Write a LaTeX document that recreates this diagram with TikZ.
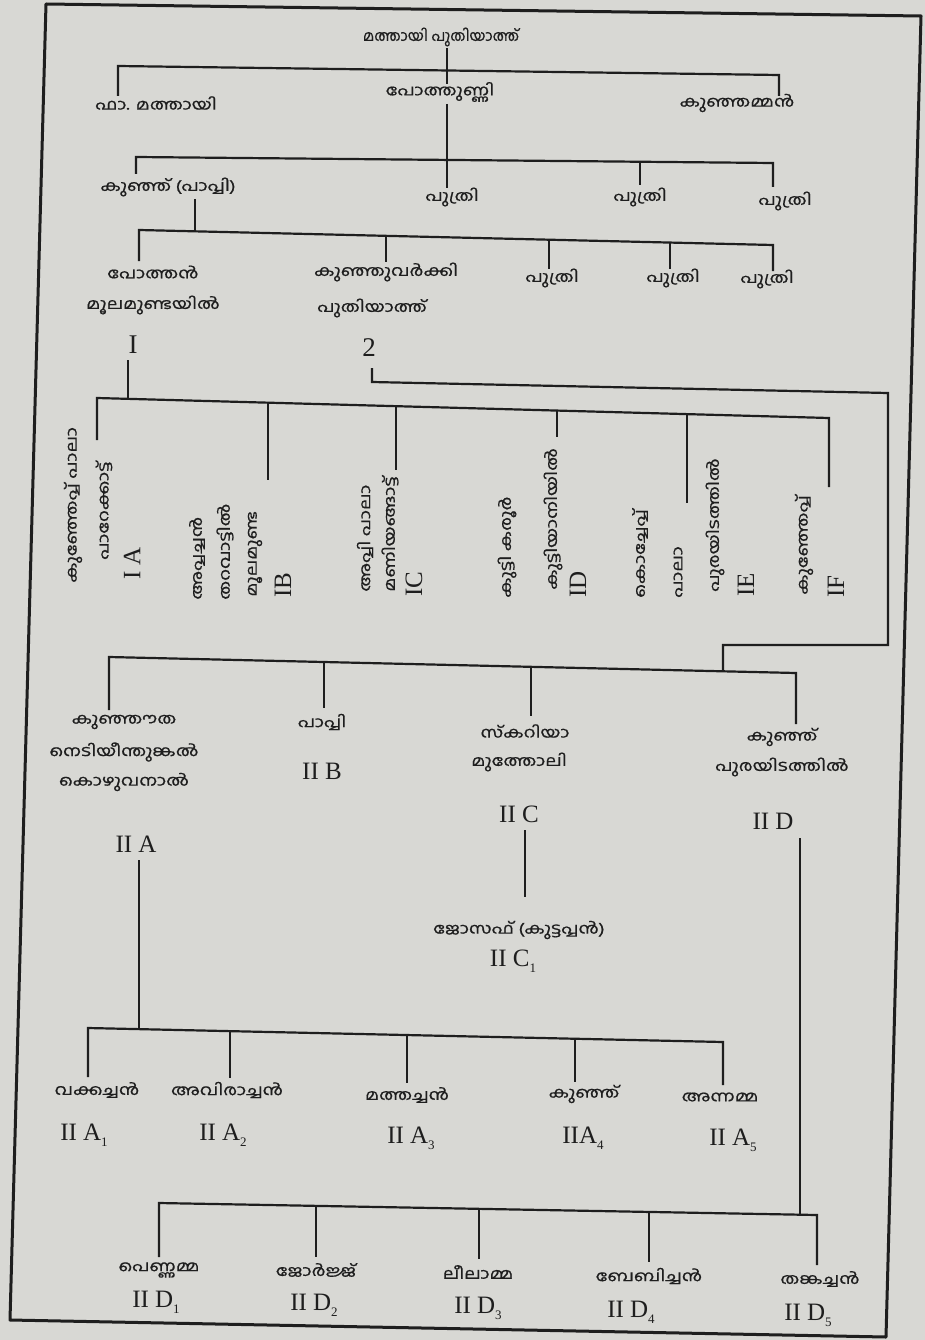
\documentclass[tikz,border=0pt]{standalone}
\usepackage{fontspec}
\setmainfont{Liberation Serif}
\newfontfamily\mal[Script=Malayalam, FakeStretch=1.25, FakeBold=0.8]{Hind Kochi}
\usetikzlibrary{calc}
\definecolor{ink}{HTML}{1E1E1E}
\definecolor{paper}{HTML}{D8D8D4}
\newcommand{\mysub}[1]{\raisebox{-6pt}{\fontsize{13}{13}\selectfont #1}}
\begin{document}
\begin{tikzpicture}[x=1pt,y=-1pt,
  ml/.style={font=\mal\fontsize{15}{17}\selectfont, inner sep=0pt, text=ink},
  rn/.style={font=\rmfamily\fontsize{25}{25}\selectfont, inner sep=0pt, text=ink, anchor=base},
  rml/.style={ml, rotate=90, anchor=west},
  rrn/.style={font=\rmfamily\fontsize{25}{25}\selectfont, inner sep=0pt, text=ink, rotate=90, anchor=west},
  tree/.style={draw=ink, line width=2.2pt},
  frame/.style={draw=ink, line width=3pt, line join=round}]
\fill[paper] (0,0) rectangle (925,1340);
\useasboundingbox (0,0) rectangle (925,1340);
\draw[frame] (46,4) -- (921,16) -- (886,1337) -- (10,1320) -- cycle;

% generation 0 and 1
\node[ml] (t0) at (441,37) {\scalebox{0.8}[1]{മത്തായി പുതിയാത്ത്}};
\node[ml] (fr) at (156,103) {ഫാ. മത്തായി};
\node[ml] (pot) at (440,92) {പോത്തുണ്ണി};
\node[ml] (kun) at (737,103) {കുഞ്ഞമ്മൻ};
\coordinate (v0a) at (447,48); \coordinate (v0b) at (447,84);
\coordinate (a0) at (118,66); \coordinate (b0) at (779,75);
\coordinate (a0e) at (118,96); \coordinate (b0e) at (779,96);
\draw[tree] (v0a) -- (v0b);
\draw[tree] (a0e) -- (a0) -- (b0) -- (b0e);

% generation 2
\node[ml] (papi) at (168,187) {കുഞ്ഞ് (പാപ്പി)};
\node[ml] (pu1) at (452,197) {പുത്രി};
\node[ml] (pu2) at (640,197) {പുത്രി};
\node[ml] (pu3) at (785,201) {പുത്രി};
\coordinate (v1a) at (447,104); \coordinate (v1b) at (447,188);
\coordinate (a1) at (136,157); \coordinate (b1) at (773,163);
\coordinate (a1e) at (136,174); \coordinate (m1) at (640,161); \coordinate (m1e) at (640,185);
\coordinate (b1e) at (773,187);
\draw[tree] (v1a) -- (v1b);
\draw[tree] (a1e) -- (a1) -- (b1) -- (b1e);
\draw[tree] (m1) -- (m1e);

% generation 3
\node[ml] (pothan) at (153,272) {പോത്തൻ};
\node[ml] (kv) at (386,272) {കുഞ്ഞുവർക്കി};
\node[ml] (pu4) at (552,278) {പുത്രി};
\node[ml] (pu5) at (673,278) {പുത്രി};
\node[ml] (pu6) at (767,279) {പുത്രി};
\node[ml] (mm) at (153,305) {മൂലമുണ്ടയിൽ};
\node[ml] (pt) at (372,308) {പുതിയാത്ത്};
\node[rn,font=\rmfamily\fontsize{27}{27}\selectfont] (one) at (133,353) {I};
\node[rn,font=\rmfamily\fontsize{27}{27}\selectfont] (two) at (369,356) {2};
\coordinate (v2a) at (195,199); \coordinate (v2b) at (195,231);
\coordinate (a2) at (139,230); \coordinate (b2) at (773,245);
\coordinate (a2e) at (139,261);
\coordinate (k2) at (386,236); \coordinate (k2e) at (386,262);
\coordinate (p4) at (549,240); \coordinate (p4e) at (549,269);
\coordinate (p5) at (670,243); \coordinate (p5e) at (670,269);
\coordinate (b2e) at (773,271);
\draw[tree] (v2a) -- (v2b);
\draw[tree] (a2e) -- (a2) -- (b2) -- (b2e);
\draw[tree] (k2) -- (k2e);
\draw[tree] (p4) -- (p4e);
\draw[tree] (p5) -- (p5e);

% line I
\coordinate (v3a) at (128,360); \coordinate (v3b) at (128,399);
\coordinate (a3) at (97,398); \coordinate (b3) at (829,418);
\coordinate (a3e) at (97,440);
\coordinate (ib) at (268,403); \coordinate (ibe) at (268,480);
\coordinate (ic) at (396,406); \coordinate (ice) at (396,470);
\coordinate (id) at (557,410); \coordinate (ide) at (557,437);
\coordinate (ie) at (687,414); \coordinate (iee) at (687,503);
\coordinate (b3e) at (829,487);
\draw[tree] (v3a) -- (v3b);
\draw[tree] (a3e) -- (a3) -- (b3) -- (b3e);
\draw[tree] (ib) -- (ibe);
\draw[tree] (ic) -- (ice);
\draw[tree] (id) -- (ide);
\draw[tree] (ie) -- (iee);

% I A ... I F (rotated)
\node[rml] (ia1) at (73,583) {കുഞ്ഞേപ്പ് പാലാ};
\node[rml] (ia2) at (104,560) {പാറേക്കാട്ട്};
\node[rrn] (ia) at (132,580) {I A};
\node[rml] (ib1) at (197,600) {അപ്പച്ചൻ};
\node[rml] (ib2) at (225,600) {തറവാട്ടിൽ};
\node[rml] (ib3) at (255,597) {മൂലമുണ്ട};
\node[rrn] (ibn) at (283,598) {IB};
\node[rml] (ic1) at (365,592) {അപ്പി പാലാ};
\node[rml] (ic2) at (390,592) {മണിയങ്ങാട്ട്};
\node[rrn] (icn) at (414,597) {IC};
\node[rml] (id1) at (507,598) {കുട്ടി കരൂർ};
\node[rml] (id2) at (553,590) {കുട്ടിയാനിയിൽ};
\node[rrn] (idn) at (578,598) {ID};
\node[rml] (ie1) at (640,598) {കൊച്ചേപ്പ്};
\node[rml] (ie2) at (678,598) {പാലാ};
\node[rml] (ie3) at (715,592) {പുരയിടത്തിൽ};
\node[rrn] (ien) at (746,597) {IE};
\node[rml] (if1) at (804,595) {കുഞ്ഞേപ്പ്};
\node[rrn] (ifn) at (836,598) {IF};

% line 2 to generation II
\coordinate (w0) at (372,368); \coordinate (w1) at (372,382);
\coordinate (w2) at (888,393); \coordinate (w3) at (888,645);
\coordinate (w4) at (723,645); \coordinate (w5) at (723,671);
\draw[tree] (w0) -- (w1) -- (w2) -- (w3) -- (w4) -- (w5);
\coordinate (a4) at (109,657); \coordinate (b4) at (796,673);
\coordinate (a4e) at (109,710);
\coordinate (q2) at (324,662); \coordinate (q2e) at (324,708);
\coordinate (q3) at (531,667); \coordinate (q3e) at (531,716);
\coordinate (b4e) at (796,724);
\draw[tree] (a4e) -- (a4) -- (b4) -- (b4e);
\draw[tree] (q2) -- (q2e);
\draw[tree] (q3) -- (q3e);

\node[ml] (ku) at (124,722) {കുഞ്ഞൗത};
\node[ml] (ne) at (124,752) {നെടിയീന്തുങ്കൽ};
\node[ml] (ko) at (124,782) {കൊഴുവനാൽ};
\node[rn] (iia) at (136,852) {II A};
\node[ml] (pa) at (322,722) {പാപ്പി};
\node[rn] (iib) at (322,779) {II B};
\node[ml] (sk) at (525,731) {സ്കറിയാ};
\node[ml] (mu) at (519,762) {മുത്തോലി};
\node[rn] (iic) at (519,822) {II C};
\node[ml] (kj) at (782,737) {കുഞ്ഞ്};
\node[ml] (pu) at (782,767) {പുരയിടത്തിൽ};
\node[rn] (iid) at (773,829) {II D};

% II C 1
\coordinate (c1a) at (525,830); \coordinate (c1b) at (525,897);
\draw[tree] (c1a) -- (c1b);
\node[ml] (jo) at (519,930) {ജോസഫ് (കുട്ടപ്പൻ)};
\node[rn] (iic1) at (513,966) {II C\mysub{1}};

% II A children
\coordinate (x0) at (139,860); \coordinate (x1) at (139,1029);
\draw[tree] (x0) -- (x1);
\coordinate (a5) at (88,1028); \coordinate (b5) at (723,1042);
\coordinate (a5e) at (88,1077);
\coordinate (r2) at (230,1031); \coordinate (r2e) at (230,1078);
\coordinate (r3) at (407,1035); \coordinate (r3e) at (407,1083);
\coordinate (r4) at (575,1039); \coordinate (r4e) at (575,1082);
\coordinate (b5e) at (723,1085);
\draw[tree] (a5e) -- (a5) -- (b5) -- (b5e);
\draw[tree] (r2) -- (r2e);
\draw[tree] (r3) -- (r3e);
\draw[tree] (r4) -- (r4e);
\node[ml] (va) at (97,1090) {വക്കച്ചൻ};
\node[ml] (av) at (227,1090) {അവിരാച്ചൻ};
\node[ml] (mt) at (407,1095) {മത്തച്ചൻ};
\node[ml] (k4) at (584,1094) {കുഞ്ഞ്};
\node[ml] (an) at (720,1097) {അന്നമ്മ};
\node[rn] (iia1) at (84,1140) {II A\mysub{1}};
\node[rn] (iia2) at (223,1140) {II A\mysub{2}};
\node[rn] (iia3) at (411,1143) {II A\mysub{3}};
\node[rn] (iia4) at (583,1143) {IIA\mysub{4}};
\node[rn] (iia5) at (733,1145) {II A\mysub{5}};

% II D children
\coordinate (y0) at (800,838); \coordinate (y1) at (800,1215);
\draw[tree] (y0) -- (y1);
\coordinate (a6) at (159,1203); \coordinate (b6) at (817,1215);
\coordinate (a6e) at (159,1257);
\coordinate (s2) at (316,1206); \coordinate (s2e) at (316,1257);
\coordinate (s3) at (479,1209); \coordinate (s3e) at (479,1259);
\coordinate (s4) at (649,1212); \coordinate (s4e) at (649,1262);
\coordinate (b6e) at (817,1265);
\draw[tree] (a6e) -- (a6) -- (b6) -- (b6e);
\draw[tree] (s2) -- (s2e);
\draw[tree] (s3) -- (s3e);
\draw[tree] (s4) -- (s4e);
\node[ml] (pe) at (159,1270) {പെണ്ണമ്മ};
\node[ml] (ge) at (316,1270) {ജോർജ്ജ്};
\node[ml] (le) at (478,1272) {ലീലാമ്മ};
\node[ml] (ba) at (649,1276) {ബേബിച്ചൻ};
\node[ml] (th) at (820,1279) {തങ്കച്ചൻ};
\node[rn] (iid1) at (156,1307) {II D\mysub{1}};
\node[rn] (iid2) at (314,1310) {II D\mysub{2}};
\node[rn] (iid3) at (478,1313) {II D\mysub{3}};
\node[rn] (iid4) at (631,1317) {II D\mysub{4}};
\node[rn] (iid5) at (808,1320) {II D\mysub{5}};
\end{tikzpicture}
\end{document}
